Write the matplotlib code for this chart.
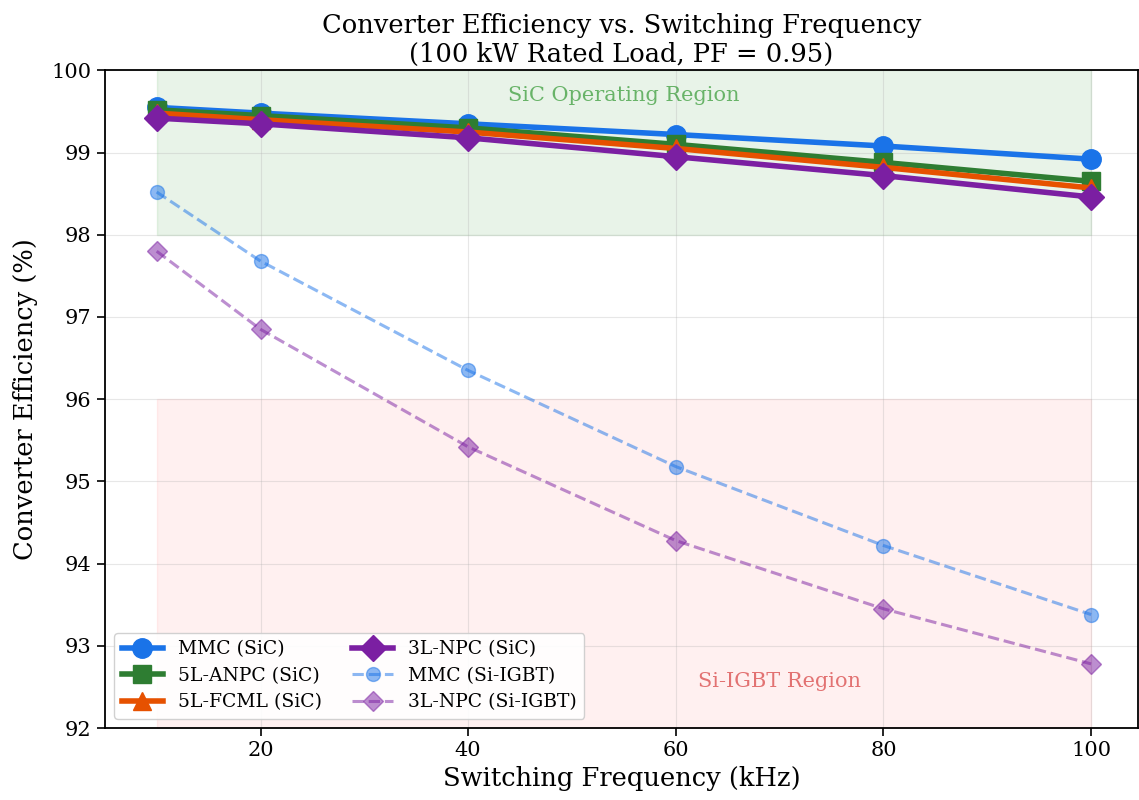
import matplotlib.pyplot as plt

plt.rcParams['font.family'] = 'DejaVu Serif'

# switching frequency (kHz)
freq = [10, 20, 40, 60, 80, 100]

# efficiency (%) per topology
mmc_sic = [99.55, 99.48, 99.35, 99.22, 99.08, 98.92]
anpc_sic = [99.52, 99.45, 99.30, 99.10, 98.88, 98.65]
fcml_sic = [99.48, 99.40, 99.25, 99.05, 98.82, 98.57]
npc_sic = [99.42, 99.35, 99.18, 98.95, 98.72, 98.46]
mmc_si = [98.52, 97.68, 96.35, 95.18, 94.22, 93.38]
npc_si = [97.80, 96.85, 95.42, 94.28, 93.45, 92.78]

fig, ax = plt.subplots(figsize=(11.39, 8), dpi=100)
fig.subplots_adjust(left=0.092, right=0.999, top=0.912, bottom=0.09)

# shaded operating regions
ax.fill_between([10, 100], 98, 100, color='green', alpha=0.09, zorder=0)
ax.fill_between([10, 100], 92, 96, color='red', alpha=0.06, zorder=0)

ax.plot(freq, mmc_sic, '-o', color='#1a73e8', lw=4, ms=14, label='MMC (SiC)')
ax.plot(freq, anpc_sic, '-s', color='#2e7d32', lw=4, ms=13, label='5L-ANPC (SiC)')
ax.plot(freq, fcml_sic, '-^', color='#e65100', lw=4, ms=13, label='5L-FCML (SiC)')
ax.plot(freq, npc_sic, '-D', color='#7b1fa2', lw=4, ms=13, label='3L-NPC (SiC)')
ax.plot(freq, mmc_si, '--o', color='#1a73e8', lw=2.2, ms=10, alpha=0.5, label='MMC (Si-IGBT)')
ax.plot(freq, npc_si, '--D', color='#7b1fa2', lw=2.2, ms=10, alpha=0.5, label='3L-NPC (Si-IGBT)')

ax.text(55, 99.69, 'SiC Operating Region', ha='center', va='center',
        fontsize=15, color='green', alpha=0.55)
ax.text(70, 92.57, 'Si-IGBT Region', ha='center', va='center',
        fontsize=15, color='#d32f2f', alpha=0.65)

ax.set_xlim(5, 104.5)
ax.set_ylim(92, 100)
ax.set_xticks([20, 40, 60, 80, 100])
ax.tick_params(labelsize=15, length=6, width=1.2)
for s in ax.spines.values():
    s.set_linewidth(1.3)
ax.grid(True, alpha=0.3)

ax.set_xlabel('Switching Frequency (kHz)', fontsize=18.5)
ax.set_ylabel('Converter Efficiency (%)', fontsize=18.5, labelpad=10)
ax.set_title('Converter Efficiency vs. Switching Frequency\n(100 kW Rated Load, PF = 0.95)',
             fontsize=18.5)

ax.legend(loc='lower left', ncol=2, fontsize=13.5, framealpha=0.9,
          labelspacing=0.45, handlelength=2.2, columnspacing=1.6)

fig.savefig('out.png', dpi=100)
